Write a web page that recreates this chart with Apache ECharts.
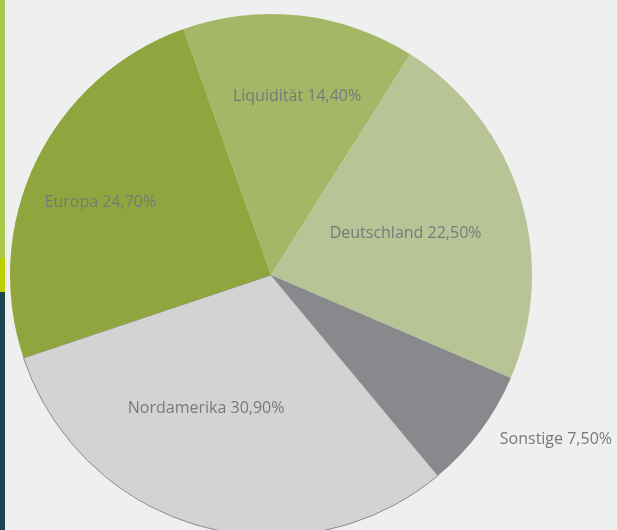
<!DOCTYPE html>
<html>
<head>
<meta charset="utf-8">
<script src="https://cdn.jsdelivr.net/npm/echarts@6/dist/echarts.min.js"></script>
<style>
  html, body { margin: 0; padding: 0; background: #efefef; }
  #chart { width: 617px; height: 530px; }
</style>
</head>
<body>
<div id="chart"></div>
<script>
// Anteile in Prozent, im Uhrzeigersinn ab "Liquidität"
const categories = ['Liquidität', 'Deutschland', 'Sonstige', 'Nordamerika', 'Europa']
const shares = [14.4, 22.5, 7.5, 30.9, 24.7]
const colors = ['#a3b766', '#b8c396', '#88898c', '#d3d3d3', '#8ea63d']

// label placement: fraction of radius along the slice, angle nudge (deg)
const labelSpots = [[0.69, 2], [0.54, 0], [1.08, -1], [0.57, 10], [0.71, -3]]

const cx = 271, cy = 275, R = 261
const startDeg = -19.6   // clockwise from 12 o'clock

const total = shares.reduce((a, b) => a + b, 0)
const midAngles = []
let acc = startDeg
shares.forEach(v => {
  const span = v / total * 360
  midAngles.push(acc + span / 2)
  acc += span
})

const fmt = v => v.toFixed(2).replace('.', ',') + '%'

const chart = echarts.init(document.getElementById('chart'))
chart.setOption({
  backgroundColor: '#efefef',
  animation: false,
  graphic: [
    { type: 'rect', shape: { x: 0, y: 0, width: 5, height: 258 }, style: { fill: '#a9c84a' } },
    { type: 'rect', shape: { x: 0, y: 258, width: 5, height: 34 }, style: { fill: '#bdd000' } },
    { type: 'rect', shape: { x: 0, y: 292, width: 5, height: 238 }, style: { fill: '#1f4553' } }
  ],
  series: [{
    type: 'pie',
    center: [cx, cy],
    radius: R,
    startAngle: 90 - startDeg,
    clockwise: true,
    silent: true,
    data: categories.map((name, i) => ({
      name: name,
      value: shares[i],
      itemStyle: i === 3
        ? { color: colors[i], borderColor: '#8c8c8c', borderWidth: 1 }
        : { color: colors[i] }
    })),
    label: {
      show: true,
      position: 'inside',
      formatter: p => p.name + ' ' + fmt(p.value),
      color: '#76797c',
      fontSize: 16,
      fontFamily: 'Open Sans'
    },
    labelLine: { show: false },
    labelLayout: function (params) {
      const i = params.dataIndex
      const a = (midAngles[i] + labelSpots[i][1]) * Math.PI / 180
      const r = R * labelSpots[i][0]
      return {
        x: cx + r * Math.sin(a),
        y: cy - r * Math.cos(a),
        align: labelSpots[i][0] > 1 ? 'left' : 'center',
        verticalAlign: 'middle'
      }
    }
  }]
})
</script>
</body>
</html>
